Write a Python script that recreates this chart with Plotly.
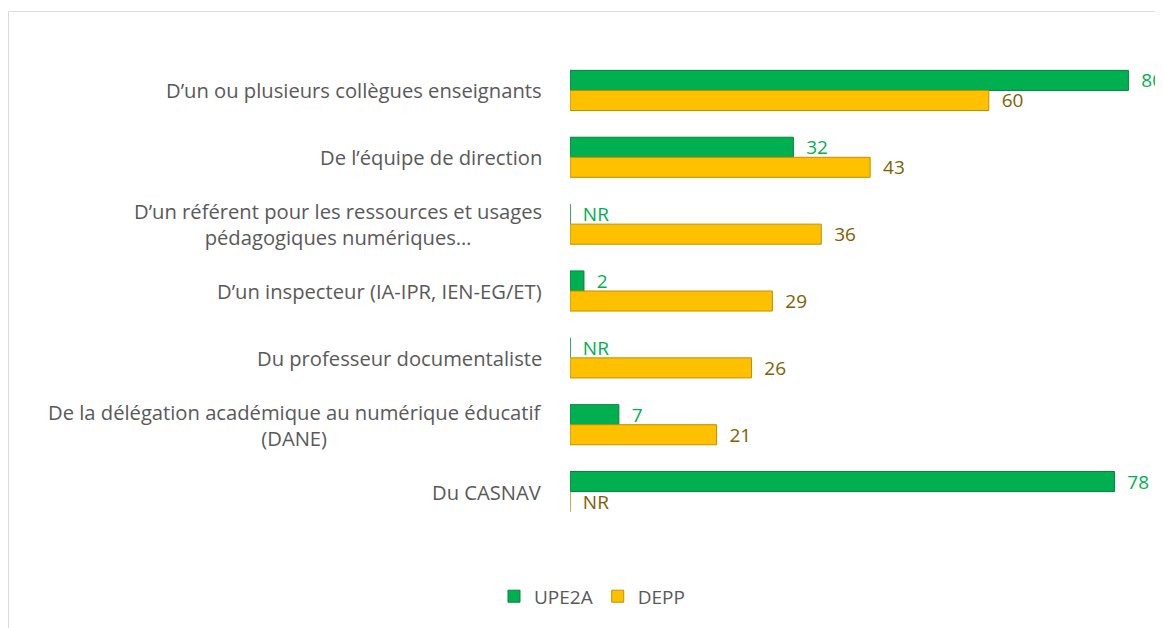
import plotly.graph_objects as go

categories = [
    "D\u2019un ou plusieurs collègues enseignants",
    "De l\u2019équipe de direction",
    "D\u2019un référent pour les ressources et usages<br>pédagogiques numériques…",
    "D\u2019un inspecteur (IA-IPR, IEN-EG/ET)",
    "Du professeur documentaliste",
    "De la délégation académique au numérique éducatif<br>(DANE)",
    "Du CASNAV",
]
upe2a = [80, 32, 0, 2, 0, 7, 78]
upe2a_text = ["80", "32", "NR", "2", "NR", "7", "78"]
depp = [60, 43, 36, 29, 26, 21, 0]
depp_text = ["60", "43", "36", "29", "26", "21", "NR"]

FONT = "Open Sans"
GREEN = "#00B050"
GOLD = "#FFC000"

# page has an 8px body margin; figure coordinates = page coordinates - 8
OFF = 8
W, H = 1163, 628
L, T = 570 - OFF, 56.5 - OFF
ph = 469
B = H - T - ph
R = 0
pw = W - L - R

fig = go.Figure()
fig.add_trace(go.Bar(
    y=list(range(len(categories))), x=upe2a, orientation="h", name="UPE2A",
    marker=dict(color=GREEN, line=dict(color="#00843C", width=1)),
    text=upe2a_text, texttemplate="\u00a0\u00a0%{text}",
    textposition="outside", cliponaxis=False, constraintext="none",
    textfont=dict(color=GREEN, size=19, family=FONT),
))
fig.add_trace(go.Bar(
    y=list(range(len(categories))), x=depp, orientation="h", name="DEPP",
    marker=dict(color=GOLD, line=dict(color="#BF9000", width=1)),
    text=depp_text, texttemplate="\u00a0\u00a0%{text}",
    textposition="outside", cliponaxis=False, constraintext="none",
    textfont=dict(color="#7F6000", size=19, family=FONT),
))

for i, c in enumerate(categories):
    fig.add_annotation(
        x=0, xref="paper", y=i, yref="y", text=c, showarrow=False,
        xanchor="right", yanchor="middle", align="center", xshift=-26,
        font=dict(family=FONT, size=20.2, color="#595959"),
    )

fig.add_shape(type="rect", xref="paper", yref="paper",
              x0=(0.5 - L) / pw, x1=(W + 10 - L) / pw,
              y0=-(H + 10 - T - ph) / ph, y1=1 + (T - 3) / ph,
              line=dict(color="#D9D9D9", width=1), layer="below")

fig.update_layout(
    width=W, height=H,
    margin=dict(l=L, r=R, t=T, b=B),
    paper_bgcolor="white", plot_bgcolor="white",
    barmode="group", bargap=0.4, bargroupgap=0,
    xaxis=dict(range=[0, pw / 6.98], visible=False, fixedrange=True),
    yaxis=dict(range=[len(categories) - 0.5, -0.5], showticklabels=False,
               showgrid=False, zeroline=False, showline=False, ticks=""),
    showlegend=True,
    legend=dict(orientation="h", x=(592 - OFF - L) / pw, xanchor="center",
                y=-(597 - OFF - T - ph) / ph, yanchor="middle",
                font=dict(family=FONT, size=19, color="#595959"),
                itemwidth=30, traceorder="normal"),
)

fig.write_html("out.html")
